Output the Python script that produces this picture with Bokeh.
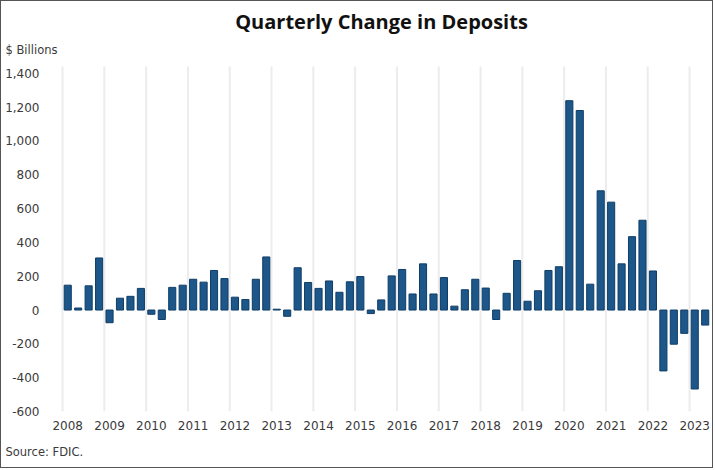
from bokeh.plotting import figure
from bokeh.models import ColumnDataSource, FixedTicker, Range1d, Title
from bokeh.embed import file_html
from bokeh.resources import INLINE

years = [str(y) for y in range(2008, 2024)]
quarters = [f"{y}Q{q}" for y in range(2008, 2024) for q in range(1, 5)][:62]
change = [
    147, 12, 143, 308, -75, 70, 81, 128,
    -25, -56, 134, 147, 182, 165, 234, 186,
    76, 62, 182, 314, 5, -37, 250, 163,
    128, 172, 105, 167, 198, -21, 60, 202,
    240, 95, 273, 95, 192, 23, 120, 182,
    130, -56, 99, 293, 52, 114, 234, 256,
    1238, 1180, 153, 705, 638, 273, 434, 531,
    231, -360, -202, -138, -467, -89,
]
y_ticks = [-600, -400, -200, 0, 200, 400, 600, 800, 1000, 1200, 1400]

idx = list(range(len(quarters)))
src = ColumnDataSource(dict(x=idx, q=quarters, v=change))

# frame extends a little above the top tick so "$ Billions" sits above it
y_top = y_ticks[-1] + 87.5
p = figure(width=713, height=468, output_backend="svg", toolbar_location=None,
           x_range=Range1d(-1.65, 61.7), y_range=Range1d(y_ticks[0], y_top),
           min_border_left=49, min_border_right=2, min_border_top=56, min_border_bottom=54)
p.outline_line_color = None
p.background_fill_color = "white"
p.styles = {"border": "1px solid #555555", "box-sizing": "border-box"}

# vertical separators at the start of each year
year_starts = [4 * k - 0.5 for k in range(len(years))]
p.segment(x0=year_starts, x1=year_starts,
          y0=[y_ticks[0]] * len(year_starts), y1=[y_ticks[-1] + 40] * len(year_starts),
          line_color="#ececec", line_width=2)

p.vbar(x="x", top="v", bottom=0, width=0.68, source=src,
       fill_color="#1d5689", line_color="#0f3d66", line_width=1)

p.xaxis.ticker = FixedTicker(ticks=[4 * k for k in range(len(years))])
p.xaxis.major_label_overrides = {4 * k: y for k, y in enumerate(years)}
p.yaxis.ticker = FixedTicker(ticks=y_ticks)
p.yaxis.major_label_overrides = {t: f"{t:,}" for t in y_ticks}
for ax in (p.xaxis[0], p.yaxis[0]):
    ax.axis_line_color = None
    ax.major_tick_line_color = None
    ax.minor_tick_line_color = None
    ax.major_label_text_font = "DejaVu Sans"
    ax.major_label_text_font_size = "12px"
    ax.major_label_text_color = "#3a3a3a"
p.xaxis.major_label_standoff = 3
p.yaxis.major_label_standoff = 5

p.ygrid.grid_line_color = None
p.xgrid.grid_line_color = None

p.add_layout(Title(text="$ Billions", align="left", offset=-45,
                   text_font="DejaVu Sans", text_font_size="11.5px", text_color="#3a3a3a",
                   text_font_style="normal", standoff=3), "above")
p.add_layout(Title(text="Quarterly Change in Deposits", align="center",
                   text_font="Open Sans", text_font_style="bold",
                   text_font_size="20px", text_color="#111111", standoff=9), "above")
p.add_layout(Title(text="Source: FDIC.", align="left", offset=-45,
                   text_font="DejaVu Sans", text_font_size="11.5px", text_color="#3a3a3a",
                   text_font_style="normal", standoff=21), "below")

open("out.html", "w").write(file_html(p, INLINE))
